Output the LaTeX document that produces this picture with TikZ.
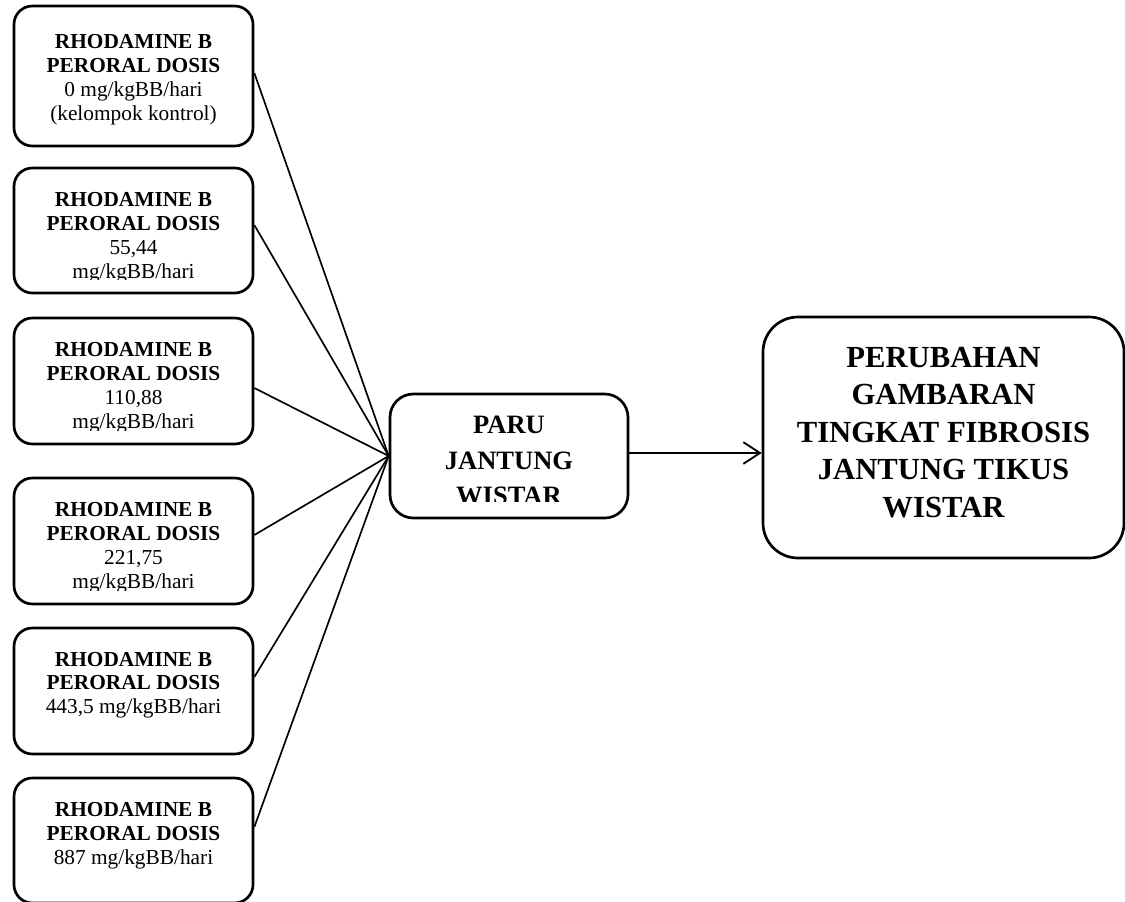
\documentclass[tikz,border=0pt]{standalone}
\usepackage{fontspec}
\setmainfont{Liberation Serif}
\usetikzlibrary{fit,calc,arrows.meta}
\tikzset{
  box/.style={draw, line width=1.6pt, rounded corners=11pt, inner sep=0pt},
  link/.style={line width=1pt},
  smalltxt/.style={align=center, inner sep=0pt, anchor=north,
    font=\fontsize{12.8}{14.3}\selectfont},
  midtxt/.style={align=center, inner sep=0pt, anchor=north,
    font=\fontsize{15.9}{21.4}\selectfont\bfseries},
  bigtxt/.style={align=center, inner sep=0pt, anchor=north,
    font=\fontsize{18.4}{22.5}\selectfont\bfseries},
}
\newcommand{\rhb}{\textbf{RHODAMINE B}\\\textbf{PERORAL DOSIS}}
\begin{document}
\begin{tikzpicture}[x=0.6pt,y=-0.6pt]
\useasboundingbox (0,0) rectangle (1125,901);

% left boxes
\node[box, fit={(14,6)(253,146)}] (b1) {};
\node[box, fit={(14,168)(253,293)}] (b2) {};
\node[box, fit={(14,318)(253,444)}] (b3) {};
\node[box, fit={(14,478)(253,604)}] (b4) {};
\node[box, fit={(14,628)(253,754)}] (b5) {};
\node[box, fit={(14,778)(253,903)}] (b6) {};

% middle and right boxes
\node[box, rounded corners=14pt, fit={(390,394)(628,518)}] (p) {};
\node[box, rounded corners=21pt, fit={(763,317)(1124,558)}] (big) {};

% texts (clipped to the box interiors like the original text boxes)
\begin{scope}
  \clip ($(b1.south west)+(0,9pt)$) rectangle (b1.north east);
  \node[smalltxt] (t1) at ([yshift=-17.8pt]b1.north) {\rhb\\0 mg/kgBB/hari\\(kelompok kontrol)};
\end{scope}
\begin{scope}
  \clip ($(b2.south west)+(0,9pt)$) rectangle (b2.north east);
  \node[smalltxt] (t2) at ([yshift=-15.5pt]b2.north) {\rhb\\55,44\\mg/kgBB/hari};
\end{scope}
\begin{scope}
  \clip ($(b3.south west)+(0,9pt)$) rectangle (b3.north east);
  \node[smalltxt] (t3) at ([yshift=-15.5pt]b3.north) {\rhb\\110,88\\mg/kgBB/hari};
\end{scope}
\begin{scope}
  \clip ($(b4.south west)+(0,9pt)$) rectangle (b4.north east);
  \node[smalltxt] (t4) at ([yshift=-15.5pt]b4.north) {\rhb\\221,75\\mg/kgBB/hari};
\end{scope}
\begin{scope}
  \clip ($(b5.south west)+(0,9pt)$) rectangle (b5.north east);
  \node[smalltxt] (t5) at ([yshift=-15pt]b5.north) {\rhb\\443,5 mg/kgBB/hari};
\end{scope}
\begin{scope}
  \clip ($(b6.south west)+(0,9pt)$) rectangle (b6.north east);
  \node[smalltxt] (t6) at ([yshift=-15.5pt]b6.north) {\rhb\\887 mg/kgBB/hari};
\end{scope}
\begin{scope}
  \clip ($(p.south west)+(0,10.8pt)$) rectangle (p.north east);
  \node[midtxt] (tp) at ([yshift=-13.8pt]p.north) {PARU\\JANTUNG\\WISTAR};
\end{scope}
\node[bigtxt] (tbig) at ([yshift=-18.6pt]big.north) {PERUBAHAN\\GAMBARAN\\TINGKAT FIBROSIS\\JANTUNG TIKUS\\WISTAR};

% connectors
\draw[link] ([yshift=1.8pt]b1.east) -- (p.west);
\draw[link] ([yshift=3.3pt]b2.east) -- (p.west);
\draw[link] ([yshift=-4.2pt]b3.east) -- (p.west);
\draw[link] ([yshift=3.6pt]b4.east) -- (p.west);
\draw[link] ([yshift=8.4pt]b5.east) -- (p.west);
\draw[link] ([yshift=8.1pt]b6.east) -- (p.west);
\draw[link, -{Straight Barb[length=10pt,width=13pt,line width=1.1pt]}] ([yshift=1.8pt]p.east) -- ([yshift=1.8pt]p.east -| big.west);
\end{tikzpicture}
\end{document}
